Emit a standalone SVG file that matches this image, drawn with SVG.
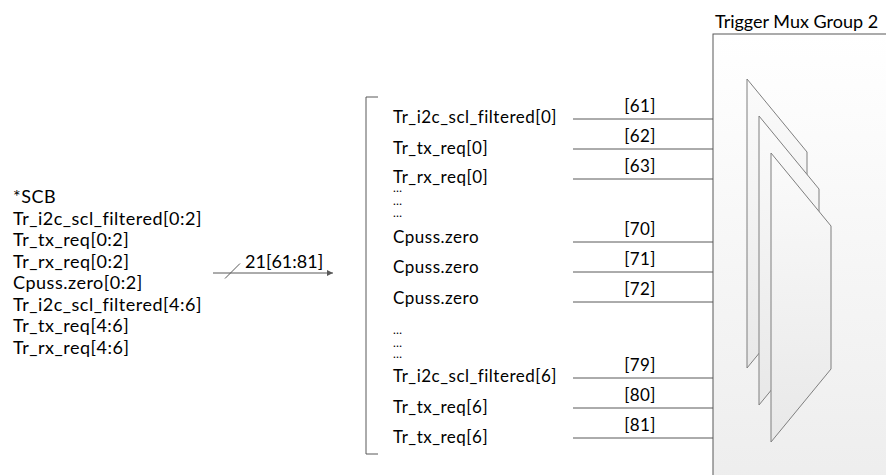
<svg xmlns="http://www.w3.org/2000/svg" width="886" height="475" viewBox="0 0 886 475">
<style>
text{font-family:Lato,"Liberation Sans",sans-serif;font-size:17px;letter-spacing:0.5px;fill:#000}
.src{font-size:18px;letter-spacing:0.5px}
.dots{font-size:12px;letter-spacing:0}
.ln{stroke:#595959;stroke-width:1;fill:none}
.mux{stroke:#7f7f7f;stroke-width:1;fill:url(#mg)}
.lbl{text-anchor:middle;letter-spacing:0.3px}
</style>
<defs>
<linearGradient id="bg" x1="0" y1="0" x2="0" y2="1"><stop offset="0" stop-color="#ffffff"/><stop offset="1" stop-color="#ededed"/></linearGradient>
<linearGradient id="mg" x1="0" y1="0" x2="0" y2="1"><stop offset="0" stop-color="#fbfbfb"/><stop offset="1" stop-color="#e8e8e8"/></linearGradient>
<marker id="ah" markerWidth="6" markerHeight="6" refX="6" refY="3" orient="auto" markerUnits="userSpaceOnUse"><path d="M0,0 L6,3 L0,6 Z" fill="#595959"/></marker>
</defs>
<g id="trigger-mux-group">
<rect x="713" y="34" width="200" height="460" fill="url(#bg)" stroke="#595959" stroke-width="1"/>
<text x="715" y="28" style="font-size:18px;letter-spacing:0">Trigger Mux Group 2</text>
<path class="mux" d="M747,79 L807,152 L807,295 L747,368 Z"/>
<path class="mux" d="M759,116 L819,189 L819,332 L759,405 Z"/>
<path class="mux" d="M771,153 L831,226 L831,369 L771,442 Z"/>
</g>
<g id="scb-source">
<text class="src" x="13" y="203">*SCB</text>
<text class="src" x="13" y="224.5">Tr_i2c_scl_filtered[0:2]</text>
<text class="src" x="13" y="246">Tr_tx_req[0:2]</text>
<text class="src" x="13" y="267.5">Tr_rx_req[0:2]</text>
<text class="src" x="13" y="289">Cpuss.zero[0:2]</text>
<text class="src" x="13" y="310.5">Tr_i2c_scl_filtered[4:6]</text>
<text class="src" x="13" y="332">Tr_tx_req[4:6]</text>
<text class="src" x="13" y="353.5">Tr_rx_req[4:6]</text>
</g>
<g id="signal-list">
<path class="ln" d="M378,97 L366,97 L366,454 L378,454"/>
<text x="393" y="123">Tr_i2c_scl_filtered[0]</text>
<text x="393" y="154">Tr_tx_req[0]</text>
<text x="393" y="183">Tr_rx_req[0]</text>
<text class="dots" x="393" y="192">…</text>
<text class="dots" x="393" y="205">…</text>
<text class="dots" x="393" y="217">…</text>
<text x="393" y="243">Cpuss.zero</text>
<text x="393" y="273">Cpuss.zero</text>
<text x="393" y="304">Cpuss.zero</text>
<text class="dots" x="393" y="334">…</text>
<text class="dots" x="393" y="347">…</text>
<text class="dots" x="393" y="358">…</text>
<text x="393" y="382">Tr_i2c_scl_filtered[6]</text>
<text x="393" y="413">Tr_tx_req[6]</text>
<text x="393" y="443">Tr_tx_req[6]</text>
</g>
<g id="connectors">
<line class="ln" x1="213" y1="273" x2="333" y2="273" marker-end="url(#ah)"/>
<line class="ln" x1="225" y1="278.5" x2="240" y2="263.5"/>
<text x="245" y="268" style="font-size:18px;letter-spacing:0">21[61:81]</text>
<line class="ln" x1="573" y1="119" x2="713" y2="119"/>
<line class="ln" x1="573" y1="149" x2="713" y2="149"/>
<line class="ln" x1="573" y1="179" x2="713" y2="179"/>
<line class="ln" x1="573" y1="242" x2="713" y2="242"/>
<line class="ln" x1="573" y1="272" x2="713" y2="272"/>
<line class="ln" x1="573" y1="302" x2="713" y2="302"/>
<line class="ln" x1="573" y1="378" x2="713" y2="378"/>
<line class="ln" x1="573" y1="408" x2="713" y2="408"/>
<line class="ln" x1="573" y1="438" x2="713" y2="438"/>
<text class="lbl" x="640" y="112">[61]</text>
<text class="lbl" x="640" y="142">[62]</text>
<text class="lbl" x="640" y="172">[63]</text>
<text class="lbl" x="640" y="235">[70]</text>
<text class="lbl" x="640" y="265">[71]</text>
<text class="lbl" x="640" y="295">[72]</text>
<text class="lbl" x="640" y="371">[79]</text>
<text class="lbl" x="640" y="401">[80]</text>
<text class="lbl" x="640" y="431">[81]</text>
</g>
</svg>
